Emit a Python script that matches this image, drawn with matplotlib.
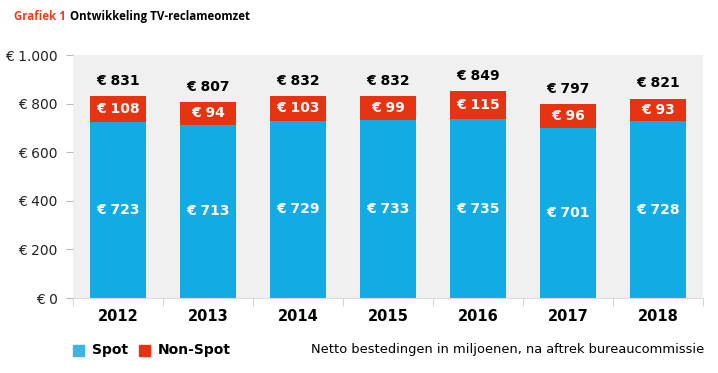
import numpy as np
import matplotlib.pyplot as plt
from matplotlib.patches import Rectangle

years = ["2012", "2013", "2014", "2015", "2016", "2017", "2018"]
spot = [723, 713, 729, 733, 735, 701, 728]
non_spot = [108, 94, 103, 99, 115, 96, 93]
totals = [831, 807, 832, 832, 849, 797, 821]

blue = "#12abe3"
red = "#e63312"

plt.rcParams["font.family"] = ["DejaVu Sans"]

fig = plt.figure(figsize=(7.18, 3.73), dpi=100)
ax = fig.add_axes([0.1017, 0.201, 0.8773, 0.6515])
ax.set_facecolor("#f0f0f0")

x = np.arange(len(years))
spot = np.array(spot)
non_spot = np.array(non_spot)
ax.bar(x, spot, width=0.63, color=blue, zorder=2)
ax.bar(x, non_spot, width=0.63, bottom=spot, color=red, zorder=2)

for i in range(len(years)):
    ax.text(x[i], spot[i] / 2, f"€ {spot[i]}", ha="center", va="center",
            color="white", fontsize=10, fontweight="bold", zorder=3)
    ax.text(x[i], spot[i] + non_spot[i] / 2, f"€ {non_spot[i]}", ha="center",
            va="center", color="white", fontsize=10, fontweight="bold", zorder=3)
    ax.annotate(f"€ {totals[i]}", (x[i], spot[i] + non_spot[i]), xytext=(0, 11),
                textcoords="offset points", ha="center", va="center",
                fontsize=10, fontweight="bold", color="black")

ax.set_xlim(-0.5, 6.5)
ax.set_ylim(0, 1000)
ax.set_xticks(x)
ax.set_xticklabels(years, fontsize=10.5, fontweight="bold")
ax.set_xticks(np.arange(-0.5, 7, 1), minor=True)
ax.tick_params(axis="x", which="major", length=0, pad=8)
ax.tick_params(axis="x", which="minor", length=6, color="#cccccc")
ax.set_yticks(np.arange(0, 1001, 200))
ax.set_yticklabels(["€ 0", "€ 200", "€ 400", "€ 600", "€ 800", "€ 1.000"], fontsize=10,
                   color="#222222")
ax.tick_params(axis="y", length=5, color="#bbbbbb", pad=6)
for s in ["top", "right", "left"]:
    ax.spines[s].set_visible(False)
ax.spines["bottom"].set_color("#dddddd")

# title
fig.text(0.0195, 0.957, "Grafiek 1", color="#e8401c", fontsize=8.3, fontweight="bold",
         family="Open Sans", va="center")
fig.text(70 / 718, 0.957, "Ontwikkeling TV-reclameomzet", color="black", fontsize=8.3,
         fontweight="bold", family="Open Sans", va="center")

# legend
fig.patches.append(Rectangle((73 / 718, 1 - 356 / 373), 11 / 718, 11 / 373,
                             transform=fig.transFigure, color="#3db3e6"))
fig.text(92 / 718, 1 - 350 / 373, "Spot", fontsize=10, fontweight="bold", va="center")
fig.patches.append(Rectangle((139 / 718, 1 - 356 / 373), 11 / 718, 11 / 373,
                             transform=fig.transFigure, color=red))
fig.text(158 / 718, 1 - 350 / 373, "Non-Spot", fontsize=10, fontweight="bold", va="center")
fig.text(704 / 718, 1 - 350 / 373, "Netto bestedingen in miljoenen, na aftrek bureaucommissie",
         fontsize=9.4, ha="right", va="center")

fig.savefig("out.png", dpi=100)
